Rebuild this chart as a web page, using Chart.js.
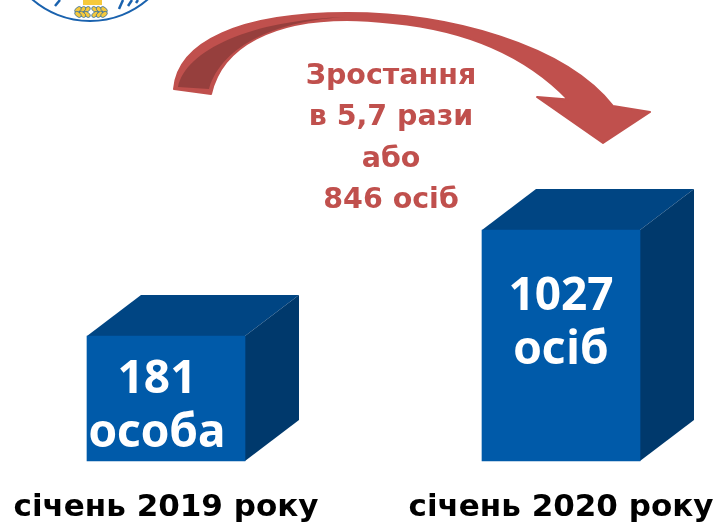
<!DOCTYPE html>
<html>
<head>
<meta charset="utf-8">
<title>Зростання</title>
<script src="https://cdn.jsdelivr.net/npm/chart.js@4/dist/chart.umd.min.js"></script>
<style>
  html, body { margin: 0; padding: 0; background: #fff; }
  canvas { display: block; }
</style>
</head>
<body>
<canvas id="myChart" width="717" height="525"></canvas>
<script>
//
// Data
//

var periods = ['січень 2019 року', 'січень 2020 року'];
var people = [181, 1027];
var peopleUnits = ['особа', 'осіб'];
var growthLines = ['Зростання', 'в 5,7 рази', 'або', '846 осіб'];

//
// Colours and fonts
//

var frontColor = '#005aa9';
var topColor = '#004583';
var sideColor = '#00396c';
var arrowColor = '#c0504d';
var arrowDarkColor = '#963f3d';
var logoBlue = '#1a62ae';
var logoYellow = '#f6c93c';
var fontName = '"Noto Sans", sans-serif';
var wideFontName = '"DejaVu Sans", sans-serif';

// Offset of the back face of the boxes
var depthX = 54;
var depthY = 41;

//
// Plugins
//

/**
 * Draw the side and top faces of the boxes behind the bars
 */
var boxFaces = {
    id: 'boxFaces',
    beforeDatasetsDraw: function (chart) {
        var ctx = chart.ctx;
        chart.getDatasetMeta(0).data.forEach(function (bar) {
            var left = bar.x - bar.width / 2;
            var right = bar.x + bar.width / 2;

            ctx.fillStyle = topColor;
            ctx.beginPath();
            ctx.moveTo(left, bar.y);
            ctx.lineTo(left + depthX, bar.y - depthY);
            ctx.lineTo(right + depthX, bar.y - depthY);
            ctx.lineTo(right, bar.y);
            ctx.closePath();
            ctx.fill();

            ctx.fillStyle = sideColor;
            ctx.beginPath();
            ctx.moveTo(right, bar.y);
            ctx.lineTo(right + depthX, bar.y - depthY);
            ctx.lineTo(right + depthX, bar.base - depthY);
            ctx.lineTo(right, bar.base);
            ctx.closePath();
            ctx.fill();
        });
    }
};

/**
 * Write the value and the unit on the front of each box
 */
var boxLabels = {
    id: 'boxLabels',
    afterDatasetsDraw: function (chart) {
        var ctx = chart.ctx;
        ctx.save();
        ctx.fillStyle = '#ffffff';
        ctx.textAlign = 'center';
        ctx.textBaseline = 'alphabetic';
        ctx.font = 'bold 46px ' + fontName;
        chart.getDatasetMeta(0).data.forEach(function (bar, index) {
            // the small box has its text higher and to the left
            var shiftX = index === 0 ? -9 : 0;
            var firstLine = index === 0 ? 57 : 80;
            ctx.fillText(String(people[index]), bar.x + shiftX, bar.y + firstLine);
            ctx.fillText(peopleUnits[index], bar.x + shiftX, bar.y + firstLine + 54);
        });
        ctx.restore();
    }
};

/**
 * Draw the curved arrow with its text, and the cut off logo at the top
 */
var decorations = {
    id: 'decorations',
    afterDraw: function (chart) {
        var ctx = chart.ctx;
        ctx.save();
        drawArrow(ctx);
        drawGrowthText(ctx);
        drawLogo(ctx);
        ctx.restore();
    }
};

function drawArrow(ctx) {
    ctx.fillStyle = arrowColor;
    ctx.strokeStyle = arrowColor;
    ctx.lineWidth = 2;
    ctx.lineJoin = 'round';
    ctx.beginPath();
    ctx.moveTo(174, 89);
    ctx.bezierCurveTo(178, 42, 240, 13, 347, 13);
    ctx.bezierCurveTo(450, 13, 565, 45, 613, 106);
    ctx.lineTo(650, 112);
    ctx.lineTo(603, 143);
    ctx.lineTo(537, 97);
    ctx.lineTo(568, 99.5);
    ctx.bezierCurveTo(525, 55, 465, 30, 393, 23);
    ctx.bezierCurveTo(375, 21, 360, 20, 347, 20);
    ctx.bezierCurveTo(275, 20, 222, 45, 211, 94);
    ctx.closePath();
    ctx.fill();
    ctx.stroke();

    // Inner side of the arrow tail
    ctx.fillStyle = arrowDarkColor;
    ctx.beginPath();
    ctx.moveTo(178, 87);
    ctx.bezierCurveTo(186, 50, 250, 20, 347, 17);
    ctx.bezierCurveTo(280, 20, 222, 44, 209, 89);
    ctx.closePath();
    ctx.fill();
}

function drawGrowthText(ctx) {
    var baselines = [84, 125, 167, 208];
    ctx.fillStyle = arrowColor;
    ctx.textAlign = 'center';
    ctx.textBaseline = 'alphabetic';
    ctx.font = 'bold 28.5px ' + wideFontName;
    growthLines.forEach(function (line, index) {
        ctx.fillText(line, 391, baselines[index]);
    });
}

function drawLogo(ctx) {
    // Ring
    ctx.strokeStyle = logoBlue;
    ctx.lineWidth = 2;
    ctx.beginPath();
    ctx.arc(90, -67, 88, 0, Math.PI);
    ctx.stroke();

    // Shield bottom
    ctx.fillStyle = logoYellow;
    ctx.fillRect(83, 0, 19, 5);

    // Wheat ears
    [[87, 12, -1], [95, 12, 1]].forEach(function (ear) {
        for (var i = 0; i < 3; i++) {
            var x = ear[0] + ear[2] * i * 4.5;
            ctx.fillStyle = logoYellow;
            ctx.strokeStyle = logoBlue;
            ctx.lineWidth = 0.7;
            ctx.beginPath();
            ctx.ellipse(x, ear[1] - 2.4, 3.8, 2.3, ear[2] * 0.7, 0, Math.PI * 2);
            ctx.fill();
            ctx.stroke();
            ctx.beginPath();
            ctx.ellipse(x, ear[1] + 2.4, 3.8, 2.3, -ear[2] * 0.7, 0, Math.PI * 2);
            ctx.fill();
            ctx.stroke();
        }
    });

    // Cut off letters of the ring text
    ctx.strokeStyle = logoBlue;
    ctx.lineWidth = 2.5;
    [[60, 0, 55, 6], [123, 0, 119, 9], [132, 0, 128, 6], [138, 0, 136, 3]].forEach(function (s) {
        ctx.beginPath();
        ctx.moveTo(s[0], s[1]);
        ctx.lineTo(s[2], s[3]);
        ctx.stroke();
    });
}

//
// Chart
//

var ctx = document.querySelector('#myChart').getContext('2d');
var chart = new Chart(ctx, {
    type: 'bar',
    data: {
        labels: periods,
        datasets: [{
            data: people,
            backgroundColor: frontColor,
            barThickness: 158,
            clip: false
        }]
    },
    options: {
        responsive: false,
        animation: false,
        layout: {
            padding: { left: 166, right: 156, top: 0, bottom: 0 }
        },
        plugins: {
            legend: { display: false },
            tooltip: { enabled: false }
        },
        scales: {
            x: {
                offset: false,
                grid: { display: false },
                border: { display: false },
                // leave the room under the boxes for the month labels,
                // the wide labels must not push the boxes sideways
                afterFit: function (scale) {
                    scale.height = 64;
                    scale.paddingLeft = 0;
                    scale.paddingRight = 0;
                },
                ticks: {
                    color: '#000000',
                    autoSkip: false,
                    maxRotation: 0,
                    padding: 20,
                    font: { family: wideFontName, size: 31, weight: 'bold' }
                }
            },
            y: {
                // the boxes in the picture are not to scale, a log axis fits them
                type: 'logarithmic',
                display: false,
                bounds: 'data',
                min: 23.4,
                max: 44460
            }
        }
    },
    plugins: [boxFaces, boxLabels, decorations]
});
</script>
</body>
</html>
